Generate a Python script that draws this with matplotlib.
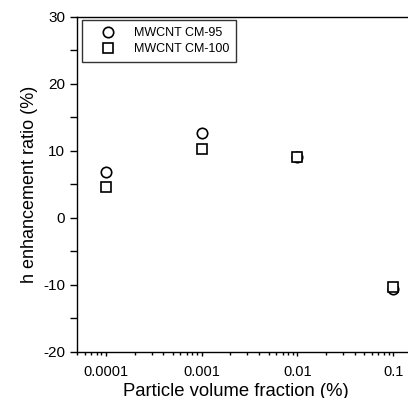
import matplotlib
matplotlib.use("Agg")
import matplotlib.pyplot as plt
from matplotlib.ticker import LogLocator, FixedLocator, NullFormatter

plt.rcParams['font.family'] = ['Liberation Sans', 'DejaVu Sans']
plt.rcParams['axes.unicode_minus'] = False

x_frac = [0.0001, 0.001, 0.01, 0.1]
cm95 = [6.8, 12.6, 9.1, -10.7]
cm100 = [4.6, 10.2, 9.0, -10.3]
xtick_labels = ['0.0001', '0.001', '0.01', '0.1']
yticks = [-20, -10, 0, 10, 20, 30]

fig = plt.figure(figsize=(4.08, 3.98), dpi=100)
W, H = 408, 398
left, right, top, bottom = 77, 422, 16.5, 351.5
ax = fig.add_axes([left / W, 1 - bottom / H, (right - left) / W, (bottom - top) / H])

ax.plot(x_frac, cm95, linestyle='none', marker='o', markersize=7.5, markerfacecolor='white',
        markeredgecolor='black', markeredgewidth=1.2, label='MWCNT CM-95')
ax.plot(x_frac, cm100, linestyle='none', marker='s', markersize=7.5, markerfacecolor='white',
        markeredgecolor='black', markeredgewidth=1.2, label='MWCNT CM-100')

ax.set_xscale('log')
ax.set_xlim(5e-5, 0.2)
ax.set_ylim(-20, 30)
ax.set_xticks(x_frac)
ax.set_xticklabels(xtick_labels)
ax.xaxis.set_minor_locator(LogLocator(base=10, subs=range(2, 10)))
ax.xaxis.set_minor_formatter(NullFormatter())
ax.set_yticks(yticks)
ax.yaxis.set_minor_locator(FixedLocator([-15, -5, 5, 15, 25]))

ax.tick_params(axis='y', which='major', direction='out', length=5, width=1, labelsize=11,
               right=False, pad=3.5)
ax.tick_params(axis='y', which='minor', direction='out', length=5, width=1, right=False)
ax.tick_params(axis='x', which='major', direction='out', length=3, width=1, labelsize=10.5,
               top=False, pad=7)
ax.tick_params(axis='x', which='minor', direction='out', length=2, width=1, top=False)
for s in ax.spines.values():
    s.set_linewidth(1)
ax.spines['right'].set_visible(False)

ax.set_xlabel('Particle volume fraction (%)', fontsize=13.3)
ax.xaxis.set_label_coords((236 - left) / (right - left), -(391 - bottom) / (bottom - top), transform=ax.transAxes)
ax.xaxis.label.set_verticalalignment('center')
ax.set_ylabel('h enhancement ratio (%)', fontsize=13, labelpad=4)

leg = ax.legend(loc='upper left', bbox_to_anchor=(82 / W, 1 - 20 / H), bbox_transform=fig.transFigure,
                fontsize=9, frameon=True, fancybox=False, edgecolor='black', borderpad=0.55,
                handletextpad=0.6, labelspacing=0.35, handlelength=3.0, borderaxespad=0)
leg.get_frame().set_linewidth(1)

fig.savefig('out.png', dpi=100)
